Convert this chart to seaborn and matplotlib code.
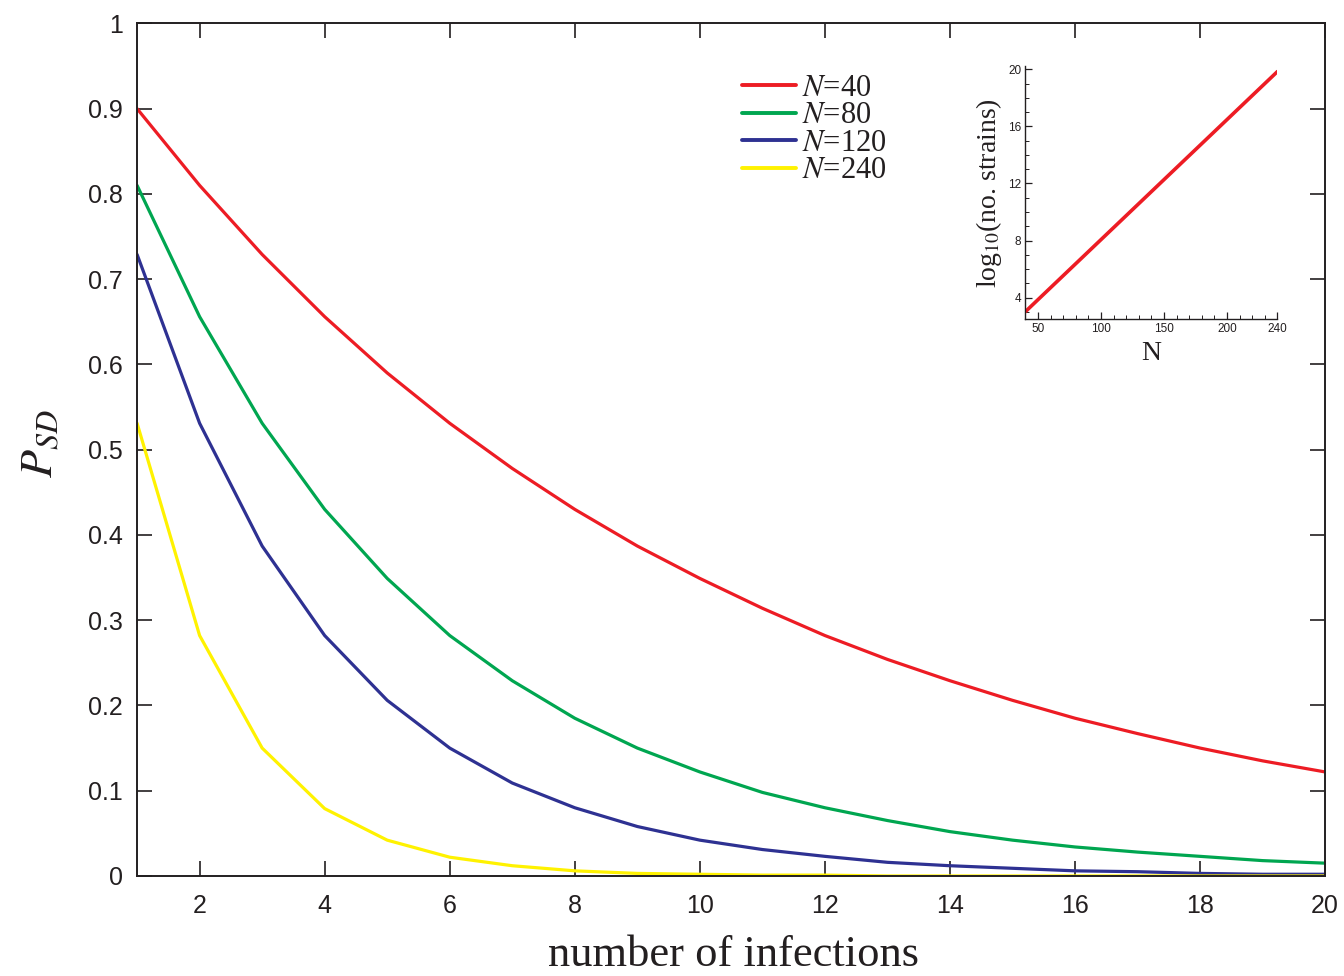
import numpy as np
import pandas as pd
import matplotlib
matplotlib.use("Agg")
import matplotlib.pyplot as plt
import matplotlib.ticker as mticker
import seaborn as sns

RED = "#ED1C24"
GREEN = "#00A650"
NAVY = "#2E3192"
YELLOW = "#FFF200"
INK = "#231F20"

# ── data ──────────────────────────────────────────────────────────────────────
infections = list(range(1, 21))
p_n40 = [0.900, 0.810, 0.729, 0.656, 0.590, 0.531, 0.478, 0.430, 0.387, 0.349,
         0.314, 0.282, 0.254, 0.229, 0.206, 0.185, 0.167, 0.150, 0.135, 0.122]
p_n80 = [0.810, 0.656, 0.531, 0.430, 0.349, 0.282, 0.229, 0.185, 0.150, 0.122,
         0.098, 0.080, 0.065, 0.052, 0.042, 0.034, 0.028, 0.023, 0.018, 0.015]
p_n120 = [0.729, 0.531, 0.387, 0.282, 0.206, 0.150, 0.109, 0.080, 0.058, 0.042,
          0.031, 0.023, 0.016, 0.012, 0.009, 0.006, 0.005, 0.003, 0.002, 0.002]
p_n240 = [0.531, 0.282, 0.150, 0.079, 0.042, 0.022, 0.012, 0.006, 0.003, 0.002,
          0.001, 0.001, 0.000, 0.000, 0.000, 0.000, 0.000, 0.000, 0.000, 0.000]
series_labels = ["40", "80", "120", "240"]
series_colors = [RED, GREEN, NAVY, YELLOW]

inset_n = [40, 240]
inset_log_strains = [3.03, 19.84]

y_ticks = [0, 0.1, 0.2, 0.3, 0.4, 0.5, 0.6, 0.7, 0.8, 0.9, 1.0]
y_tick_labels = ["0", "0.1", "0.2", "0.3", "0.4", "0.5", "0.6", "0.7", "0.8", "0.9", "1"]
x_ticks = [2, 4, 6, 8, 10, 12, 14, 16, 18, 20]
inset_x_ticks = [50, 100, 150, 200, 240]
inset_y_ticks = [4, 8, 12, 16, 20]

sns.set_style("ticks")
plt.rcParams.update({
    "font.family": ["Liberation Sans", "DejaVu Sans"],
    "mathtext.fontset": "stix",
    "xtick.direction": "in",
    "ytick.direction": "in",
})

rows = []
for lab, vals in zip(series_labels, [p_n40, p_n80, p_n120, p_n240]):
    for x, v in zip(infections, vals):
        rows.append({"infections": x, "psd": v, "N": lab})
df = pd.DataFrame(rows)

fig = plt.figure(figsize=(13.44, 9.76), dpi=100)
ax = fig.add_axes([0.102, 0.1025, 0.884, 0.8735])

sns.lineplot(data=df, x="infections", y="psd", hue="N", palette=series_colors,
             hue_order=series_labels, linewidth=2.3, ax=ax, legend=False)

ax.set_xlim(1, 20)
ax.set_ylim(0, 1)
ax.set_xticks(x_ticks)
ax.set_yticks(y_ticks)
ax.set_yticklabels(y_tick_labels)
ax.tick_params(axis="both", which="major", length=11, width=1.2, labelsize=18,
               top=True, right=True, colors=INK)
ax.tick_params(axis="y", pad=10)
ax.tick_params(axis="x", pad=13)
for s in ax.spines.values():
    s.set_linewidth(1.4)
    s.set_color(INK)
ax.set_xlabel("")
ax.set_ylabel("")

fig.text(0.546, 0.001, "number of infections", ha="center", va="bottom",
         family="Liberation Serif", fontsize=32, color=INK)
fig.text(0.030, 0.545, r"$P_{SD}$", ha="center", va="center", rotation=90,
         fontsize=33, color=INK)

# legend
handles = [plt.Line2D([], [], color=c, linewidth=2.8) for c in series_colors]
labels = [rf"$N$=" + l for l in series_labels]
leg = ax.legend(handles, labels, loc="upper left", bbox_to_anchor=(0.499, 0.955),
                frameon=False, handlelength=1.75, handletextpad=0.2,
                labelspacing=-0.05, borderaxespad=0,
                prop={"family": "Liberation Serif", "size": 22})
for t in leg.get_texts():
    t.set_color(INK)

# inset
ins = fig.add_axes([0.763, 0.673, 0.1875, 0.259])
sns.lineplot(x=inset_n, y=inset_log_strains, color=RED, linewidth=2.6, ax=ins)
ins.set_xlim(40, 240)
ins.set_ylim(2.5, 20.2)
ins.set_xticks(inset_x_ticks)
ins.set_yticks(inset_y_ticks)
ins.xaxis.set_minor_locator(mticker.MultipleLocator(10))
ins.yaxis.set_minor_locator(mticker.MultipleLocator(1))
ins.tick_params(axis="both", which="major", length=5, width=0.9, labelsize=8.5,
                colors=INK, pad=3)
ins.tick_params(axis="both", which="minor", length=3, width=0.7, colors=INK)
ins.spines["top"].set_visible(False)
ins.spines["right"].set_visible(False)
for s in ["left", "bottom"]:
    ins.spines[s].set_linewidth(1.0)
    ins.spines[s].set_color(INK)
ins.set_xlabel("N", family="Liberation Serif", fontsize=20, color=INK, labelpad=4)
ins.set_ylabel(r"log$_{10}$(no. strains)", family="Liberation Serif", fontsize=20,
               color=INK, labelpad=3)

fig.savefig("out.png", dpi=100)
